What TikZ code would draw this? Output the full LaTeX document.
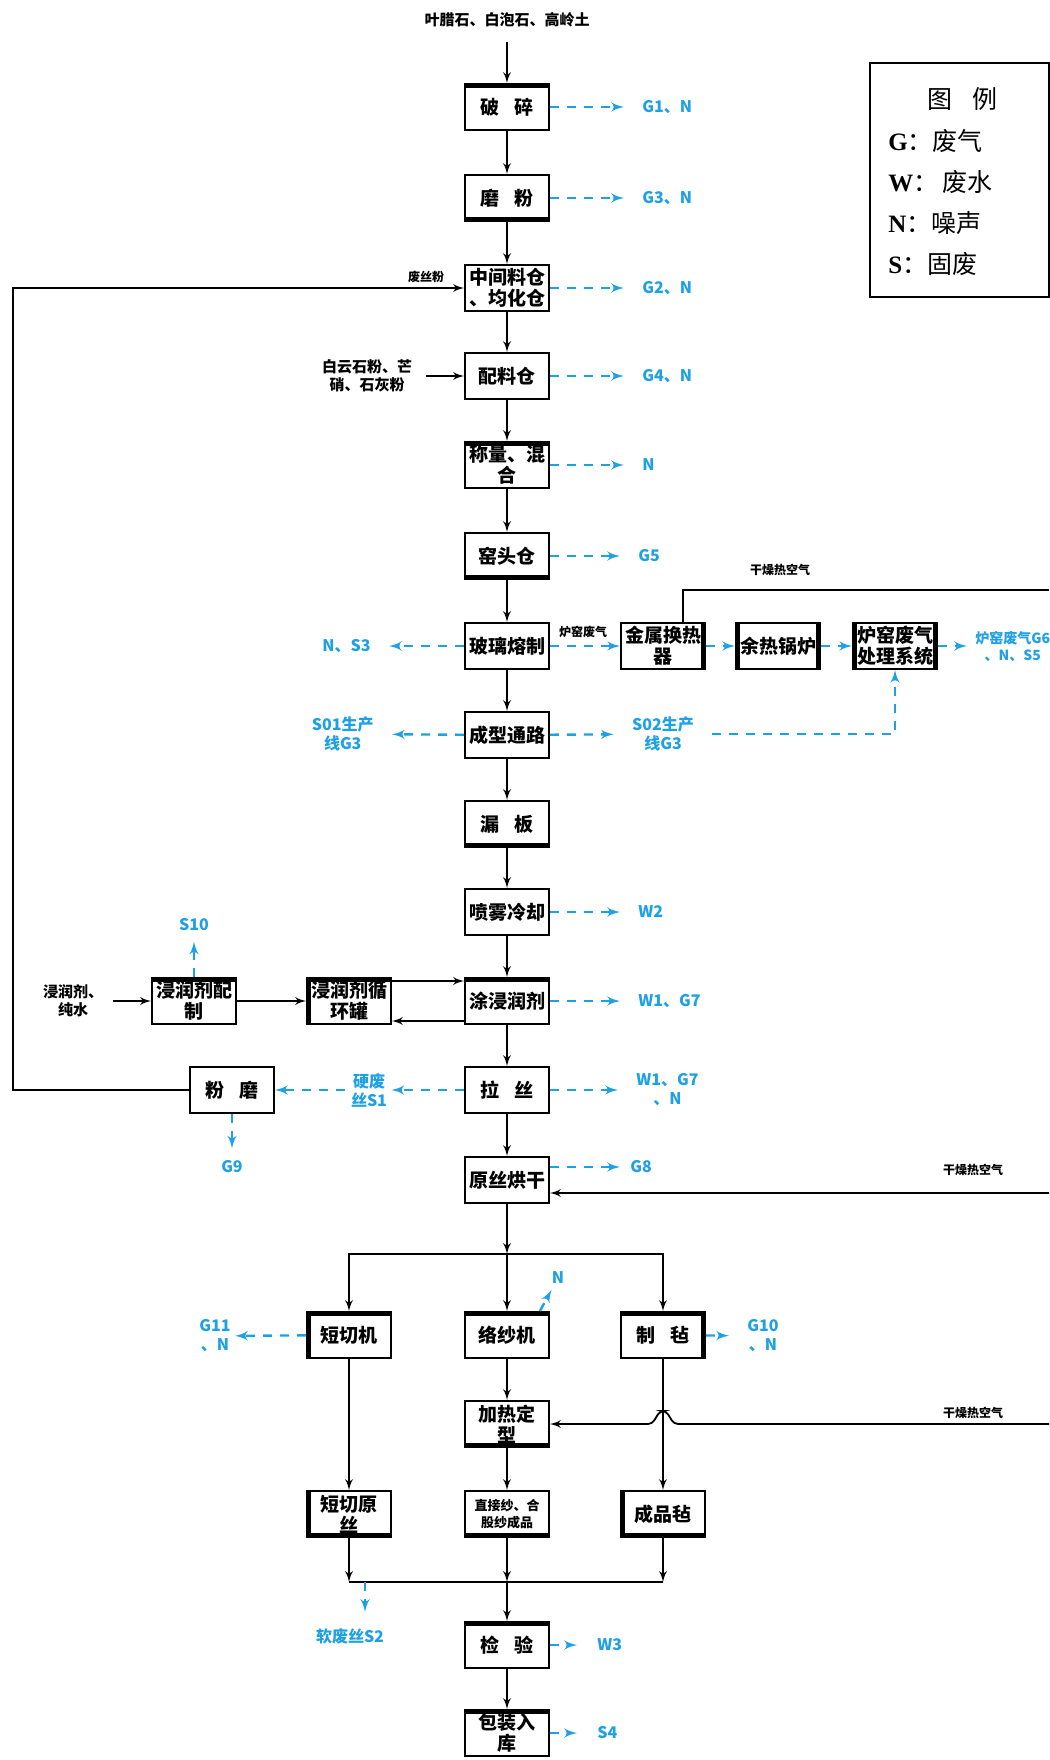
\documentclass[tikz,border=0pt]{standalone}
\usepackage{fontspec}
\setmainfont{Noto Sans CJK SC}
\newfontfamily\lat{Liberation Serif}
\usetikzlibrary{arrows,calc}
\definecolor{wblue}{RGB}{30,160,228}

\begin{document}
\begin{tikzpicture}[x=0.5pt,y=-0.5pt]
  \tikzstyle{box}=[draw,line width=0.9pt,minimum width=42pt,minimum height=23pt,inner sep=0pt,align=center,font=\fontsize{9.5}{10.5}\selectfont\bfseries]
  \tikzstyle{heavy}=[path picture={\foreach \p/\q in {#1}{\draw[line width=4pt] (path picture bounding box.\p) -- (path picture bounding box.\q);}}]
  \tikzstyle{line}=[draw,line width=0.9pt,-latex']
  \tikzstyle{waste}=[draw=wblue,line width=1.2pt,dash pattern=on 4.5pt off 4pt,-latex']
  \tikzstyle{wout}=[waste,shorten >=8pt]
  \tikzstyle{wlabel}=[text=wblue,inner sep=1pt,align=center,font=\fontsize{8}{9.5}\selectfont\bfseries]
  \tikzstyle{note}=[inner sep=1pt,align=center,font=\fontsize{7.5}{9}\selectfont\bfseries]
  \tikzstyle{tiny}=[inner sep=1pt,font=\fontsize{6}{7}\selectfont\bfseries]
  \tikzstyle{legend}=[inner sep=0pt,anchor=west,font=\fontsize{12.5}{14}\selectfont]
  \useasboundingbox (0,0) rectangle (1049,1760);
  % main line
  \node[box,heavy={north west/north east}] (PS) at (507,107) {破\hspace{.8em}碎};
  \node[box,heavy={south west/south east}] (MF) at (507,198) {磨\hspace{.8em}粉};
  \node[box] (ZJ) at (507,288) {中间料仓\\、均化仓};
  \node[box] (PL) at (507,376) {配料仓};
  \node[box,heavy={north west/north east}] (CL) at (507,465) {称量、混\\合};
  \node[box,heavy={south west/south east}] (YT) at (507,556) {窑头仓};
  \node[box] (BL) at (507,646) {玻璃熔制};
  \node[box] (CX) at (507,735) {成型通路};
  \node[box,heavy={south west/south east}] (LB) at (507,824) {漏\hspace{.8em}板};
  \node[box] (PW) at (507,912) {喷雾冷却};
  \node[box,heavy={north west/north east}] (TJ) at (507,1001) {涂浸润剂};
  \node[box] (LS) at (507,1090) {拉\hspace{.8em}丝};
  \node[box] (YS) at (507,1180) {原丝烘干};
  % three branches
  \node[box,heavy={north west/north east,north west/south west}] (DQ) at (349,1335) {短切机};
  \node[box,heavy={north west/north east}] (LZ) at (507,1335) {络纱机};
  \node[box,heavy={north west/north east,north east/south east}] (ZZ) at (663,1335) {制\hspace{.8em}毡};
  \node[box,heavy={south west/south east}] (JR) at (507,1424) {加热定\\型};
  \node[box,heavy={south west/south east,north west/south west}] (DY) at (349,1514) {短切原\\丝};
  \node[box,heavy={south west/south east},font=\fontsize{6.5}{8.5}\selectfont\bfseries] (ZS) at (507,1514) {直接纱、合\\股纱成品};
  \node[box,heavy={south west/south east,north west/south west}] (CP) at (663,1514) {成品毡};
  \node[box,heavy={north west/north east}] (JY) at (507,1645) {检\hspace{.8em}验};
  \node[box,heavy={north west/north east}] (BZ) at (507,1733) {包装入\\库};
  % sizing and scrap
  \node[box,heavy={north west/north east}] (JP) at (194,1001) {浸润剂配\\制};
  \node[box,heavy={north west/north east,north west/south west}] (JX) at (349,1001) {浸润剂循\\环罐};
  \node[box] (FM) at (232,1090) {粉\hspace{.8em}磨};
  % furnace gas
  \node[box,heavy={north east/south east}] (JH) at (663,646) {金属换热\\器};
  \node[box,heavy={north west/south west,north east/south east}] (YR) at (778,646) {余热锅炉};
  \node[box,heavy={north west/south west,north east/south east}] (LY) at (895,646) {炉窑废气\\处理系统};
  % inputs and notes
  \node[note] (TOP) at (507,20) {叶腊石、白泡石、高岭土};
  \node[note] (PLIN) at (367,376) {白云石粉、芒\\硝、石灰粉};
  \node[note] (JIN) at (73,1001) {浸润剂、\\纯水};
  \node[tiny] (FSF) at (426,277) {废丝粉};
  \node[tiny] (LYF) at (583,632) {炉窑废气};
  \node[tiny] (AIR1) at (780,570) {干燥热空气};
  \node[tiny] (AIR2) at (973,1170) {干燥热空气};
  \node[tiny] (AIR3) at (973,1413) {干燥热空气};
  % waste labels
  \node[wlabel,anchor=west] (G1) at (640,107) {G1、N};
  \node[wlabel,anchor=west] (G3) at (640,198) {G3、N};
  \node[wlabel,anchor=west] (G2) at (640,288) {G2、N};
  \node[wlabel,anchor=west] (G4) at (640,376) {G4、N};
  \node[wlabel,anchor=west] (NCL) at (640,465) {N};
  \node[wlabel,anchor=west] (G5) at (636,556) {G5};
  \node[wlabel,anchor=east] (NS3) at (373,646) {N、S3};
  \node[wlabel,anchor=east] (S01) at (376,734) {S01生产\\线G3};
  \node[wlabel] (S02) at (663,734) {S02生产\\线G3};
  \node[wlabel,anchor=west] (W2) at (636,912) {W2};
  \node[wlabel,anchor=west] (W1) at (636,1001) {W1、G7};
  \node[wlabel,anchor=west] (W1N) at (634,1090) {W1、G7\\、N};
  \node[wlabel] (S1) at (369,1090) {硬废\\丝S1};
  \node[wlabel] (G9) at (232,1167) {G9};
  \node[wlabel] (S10) at (194,925) {S10};
  \node[wlabel,anchor=west] (G8) at (628,1167) {G8};
  \node[wlabel] (G11) at (215,1336) {G11\\、N};
  \node[wlabel,anchor=west] (G10) at (745,1336) {G10\\、N};
  \node[wlabel] (NLZ) at (558,1278) {N};
  \node[wlabel] (S2) at (350,1636) {软废丝S2};
  \node[wlabel,anchor=west] (W3) at (595,1645) {W3};
  \node[wlabel,anchor=west] (S4) at (595,1733) {S4};
  \node[wlabel,anchor=west,font=\fontsize{7}{8.5}\selectfont\bfseries] (G6) at (973,646) {炉窑废气G6\\、N、S5};
  % legend
  \draw[line width=0.8pt] (870,63) rectangle (1049,297);
  \node[legend,anchor=center] (LG) at (962,99) {图\hspace{.8em}例};
  \node[legend] (LGG) at (888,141) {{\lat\bfseries G}：废气};
  \node[legend] (LGW) at (888,182) {{\lat\bfseries W}：\,废水};
  \node[legend] (LGN) at (888,223) {{\lat\bfseries N}：噪声};
  \node[legend] (LGS) at (888,264) {{\lat\bfseries S}：固废};
  % main flow
  \draw[line,shorten <=6pt] (TOP) -- (PS);
  \foreach \a/\b in {PS/MF,MF/ZJ,ZJ/PL,PL/CL,CL/YT,YT/BL,BL/CX,CX/LB,LB/PW,PW/TJ,TJ/LS,LS/YS}
    \draw[line] (\a) -- (\b);
  \draw[line,shorten <=6pt] (PLIN) -- (PL);
  \coordinate (SP) at (507,1254);
  \draw[line] (YS) -- (SP);
  \draw[line] (SP) -- (LZ);
  \draw[line] (SP) -| (DQ);
  \draw[line] (SP) -| (ZZ);
  \draw[line] (DQ) -- (DY);
  \draw[line] (LZ) -- (JR);
  \draw[line] (JR) -- (ZS);
  \draw[line] (ZZ) -- (CP);
  \coordinate (MG) at (507,1582);
  \draw[line] (DY) -- (DY |- MG);
  \draw[line] (ZS) -- (MG);
  \draw[line] (CP) -- (CP |- MG);
  \draw[line width=0.9pt] (DY |- MG) -- (CP |- MG);
  \draw[line] (MG) -- (JY);
  \draw[line] (JY) -- (BZ);
  % sizing loop
  \draw[line,shorten <=4pt] (JIN) -- (JP);
  \draw[line] (JP) -- (JX);
  \draw[line] ([yshift=10pt]JX.east) -- ([yshift=10pt]TJ.west);
  \draw[line] ([yshift=-10pt]TJ.west) -- ([yshift=-10pt]JX.east);
  % scrap back to silo
  \coordinate (LL) at (13,0);
  \draw[line] (FM.west) -- (FM.west -| LL) |- (ZJ.west);
  % hot air
  \coordinate (A1) at (1049,590);
  \draw[line width=0.9pt] ($(JH.north)+(20,0)$) |- (A1);
  \coordinate (A2) at (1049,1193);
  \draw[line] (A2) -- (A2 -| YS.east);
  \coordinate (A3) at (1049,1424);
  \coordinate (HP) at (663,1424);
  \draw[line,rounded corners=2pt] (A3) -- ($(HP)+(11,0)$) -- ($(HP)+(3,-13)$) -- ($(HP)+(-3,-13)$) -- ($(HP)+(-11,0)$) -- (JR.east);
  % waste
  \foreach \a/\b in {PS/G1,MF/G3,ZJ/G2,PL/G4,CL/NCL,YT/G5,PW/W2,TJ/W1,LS/W1N,BL/NS3,CX/S01,CX/S02,ZZ/G10}
    \draw[wout] (\a) -- (\b);
  \draw[waste] (BL) -- (JH);
  \draw[waste] (JH) -- (YR);
  \draw[waste] (YR) -- (LY);
  \draw[waste,shorten >=3pt] (LY) -- (G6);
  \draw[waste,shorten <=8pt] (S02.east) -| (LY.south);
  \draw[waste,shorten >=1pt] (LS) -- (S1);
  \draw[waste,shorten <=2pt] (S1) -- (FM);
  \draw[waste,shorten >=5pt] (FM) -- (G9);
  \draw[waste,shorten >=4pt] (JP) -- (S10);
  \draw[wout,shorten >=4pt] ([yshift=6.5pt]YS.east) -- (G8);
  \draw[waste,shorten >=1pt] (DQ) -- (G11);
  \draw[waste,shorten >=2pt] ([xshift=-5pt]LZ.north east) -- (NLZ);
  \coordinate (S2s) at (365,1582);
  \draw[waste,shorten >=7pt] (S2s) -- (S2s |- S2.north);
  \draw[waste,shorten >=9pt] (JY) -- (W3);
  \draw[waste,shorten >=9pt] (BZ) -- (S4);
\end{tikzpicture}
\end{document}
